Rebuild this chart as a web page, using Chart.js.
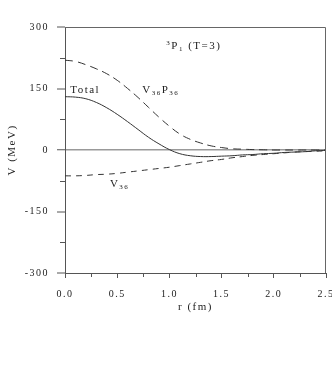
<!DOCTYPE html>
<html><head><meta charset="utf-8">
<script src="https://cdn.jsdelivr.net/npm/chart.js@4/dist/chart.umd.min.js"></script>
<style>html,body{margin:0;padding:0;background:#fff}#wrap{width:332px;height:388px}</style>
</head><body><div id="wrap"><canvas id="c" width="332" height="388"></canvas></div>
<script>
const rValues = [0,0.1,0.2,0.3,0.4,0.5,0.6,0.7,0.8,0.9,1.0,1.1,1.2,1.3,1.4,1.5,1.6,1.7,1.8,1.9,2.0,2.1,2.2,2.3,2.4,2.5];
const totalV  = [130,129,125,116,103,87,69,50,31,15,1,-9,-14,-16,-16,-15,-14,-12,-11,-9,-8,-6,-5,-4,-2,-1];
const v36p36  = [219,216,208,198,186,170,150,128,104,80,58,39,26,17,10,6,3,2,1,0.5,0,0,0,0,0,0];
const v36     = [-63,-63,-62,-60,-59,-57,-54,-51,-48,-45,-42,-38,-34,-30,-26,-23,-19,-16,-13,-11,-9,-7,-5,-4,-3,-2];
const yTicks = [-300,-150,0,150,300];
const yMinor = [-225,-75,75,225];
const xTicks = [0,0.5,1.0,1.5,2.0,2.5];
const xMinor = [0.25,0.75,1.25,1.75,2.25];

const FONT = '"Liberation Serif", "DejaVu Serif", serif';
const ink = '#333';
const pts = arr => rValues.map((r,i)=>({x:r,y:arr[i]}));

const spacing = {
  id:'spacing',
  beforeLayout(c){ c.ctx.letterSpacing='1.5px'; },
  beforeDraw(c){ c.ctx.letterSpacing='1.5px'; }
};

function drawSub(ctx, parts, x, y){
  let cx = x;
  for (const [t, kind] of parts){
    if (kind==='sub'){ ctx.font='7px '+FONT; ctx.fillText(t, cx, y+2); }
    else if (kind==='sup'){ ctx.font='7px '+FONT; ctx.fillText(t, cx, y-4); }
    else { ctx.font='11px '+FONT; ctx.fillText(t, cx, y); }
    cx += ctx.measureText(t).width;
  }
}

const deco = {
  id:'deco',
  afterDraw(c){
    const ctx=c.ctx, a=c.chartArea, xs=c.scales.x, ys=c.scales.y;
    ctx.save();
    ctx.letterSpacing='1.5px';
    ctx.strokeStyle='#666'; ctx.lineWidth=1;
    ctx.beginPath();
    ctx.moveTo(a.left, a.top+0.5); ctx.lineTo(a.right-0.5, a.top+0.5); ctx.lineTo(a.right-0.5, a.bottom);
    ctx.stroke();
    ctx.strokeStyle='#555';
    ctx.beginPath();
    yMinor.forEach(v=>{const p=Math.round(ys.getPixelForValue(v))+0.5; ctx.moveTo(a.left-5,p); ctx.lineTo(a.left,p);});
    xMinor.forEach(v=>{const p=Math.round(xs.getPixelForValue(v))+0.5; ctx.moveTo(p,a.bottom); ctx.lineTo(p,a.bottom+4);});
    ctx.stroke();
    ctx.fillStyle='#222'; ctx.textBaseline='alphabetic'; ctx.textAlign='left';
    drawSub(ctx, [['3','sup'],['P',''],['1','sub'],[' (T=3)','']], xs.getPixelForValue(0.97), ys.getPixelForValue(247));
    drawSub(ctx, [['Total','']], xs.getPixelForValue(0.05), ys.getPixelForValue(139));
    drawSub(ctx, [['V',''],['36','sub'],['P',''],['36','sub']], xs.getPixelForValue(0.74), ys.getPixelForValue(139));
    drawSub(ctx, [['V',''],['36','sub']], xs.getPixelForValue(0.43), ys.getPixelForValue(-91));
    ctx.font='11px '+FONT; ctx.textAlign='center'; ctx.textBaseline='middle';
    ctx.fillText('r (fm)', (a.left+a.right)/2, 307);
    ctx.translate(12, ys.getPixelForValue(0));
    ctx.rotate(-Math.PI/2);
    ctx.fillText('V (MeV)', 0, 0);
    ctx.restore();
  }
};

new Chart(document.getElementById('c'), {
  type:'line',
  data:{datasets:[
    {label:'Total', data:pts(totalV), borderColor:ink, borderWidth:1, pointRadius:0, tension:0.4, fill:false},
    {label:'V36P36', data:pts(v36p36), borderColor:ink, borderWidth:1, borderDash:[8,5], pointRadius:0, tension:0.4, fill:false},
    {label:'V36', data:pts(v36), borderColor:ink, borderWidth:1, borderDash:[6,5], pointRadius:0, tension:0.4, fill:false}
  ]},
  options:{
    responsive:false, animation:false, devicePixelRatio:1,
    layout:{padding:{left:0,right:6,top:27,bottom:75}},
    plugins:{legend:{display:false}, tooltip:{enabled:false}},
    scales:{
      x:{type:'linear', min:0, max:2.5,
        afterFit(s){ s.height=40; s.paddingLeft=0; s.paddingRight=0; },
        afterBuildTicks(s){ s.ticks = xTicks.map(v=>({value:v})); },
        ticks:{padding:10, color:'#222', font:{family:FONT,size:10}, maxRotation:0, callback:v=>Number(v).toFixed(1)},
        grid:{drawOnChartArea:false, tickLength:5, tickColor:'#555', tickWidth:1},
        border:{color:'#555', width:1}},
      y:{type:'linear', min:-300, max:300,
        afterFit(s){ s.width=65; s.paddingTop=0; s.paddingBottom=0; },
        afterBuildTicks(s){ s.ticks = yTicks.map(v=>({value:v})); },
        ticks:{padding:8, color:'#222', font:{family:FONT,size:10}, callback:v=>String(v)},
        grid:{drawOnChartArea:true, tickLength:8, tickColor:'#555', tickWidth:1,
          color:ctx=>(ctx.tick && ctx.tick.value===0)?'#999':'rgba(0,0,0,0)',
          lineWidth:ctx=>(ctx.tick && ctx.tick.value===0)?1.5:0},
        border:{color:'#555', width:1}}
    }
  },
  plugins:[spacing, deco]
});
</script></body></html>
